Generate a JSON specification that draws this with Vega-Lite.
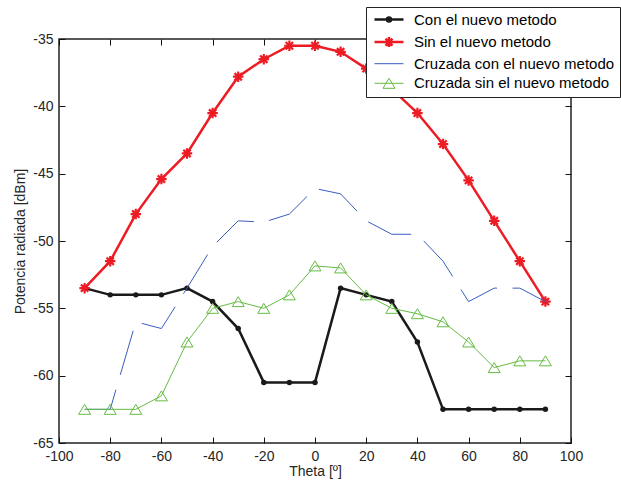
{
  "$schema": "https://vega.github.io/schema/vega-lite/v6.json",
  "width": 512,
  "height": 404,
  "autosize": {"type": "none"},
  "padding": {"left": 59, "top": 39, "right": 50, "bottom": 42},
  "background": "white",
  "config": {
    "view": {"stroke": "#222222", "strokeWidth": 1.5},
    "font": "Liberation Sans",
    "axis": {
      "grid": false,
      "domain": false,
      "zindex": 1,
      "labelFlush": false,
      "labelOverlap": false,
      "labelFont": "Liberation Sans",
      "labelFontSize": 14,
      "labelColor": "#262626",
      "labelExpr": "'' + datum.value",
      "titleFont": "Liberation Sans",
      "titleFontSize": 14,
      "titleFontWeight": "normal",
      "titleColor": "#262626"
    }
  },
  "datasets": {
    "rows": [
      {"theta": -90, "value": -53.5, "series": "Con el nuevo metodo"},
      {"theta": -80, "value": -54, "series": "Con el nuevo metodo"},
      {"theta": -70, "value": -54, "series": "Con el nuevo metodo"},
      {"theta": -60, "value": -54, "series": "Con el nuevo metodo"},
      {"theta": -50, "value": -53.5, "series": "Con el nuevo metodo"},
      {"theta": -40, "value": -54.5, "series": "Con el nuevo metodo"},
      {"theta": -30, "value": -56.5, "series": "Con el nuevo metodo"},
      {"theta": -20, "value": -60.5, "series": "Con el nuevo metodo"},
      {"theta": -10, "value": -60.5, "series": "Con el nuevo metodo"},
      {"theta": 0, "value": -60.5, "series": "Con el nuevo metodo"},
      {"theta": 10, "value": -53.5, "series": "Con el nuevo metodo"},
      {"theta": 20, "value": -54, "series": "Con el nuevo metodo"},
      {"theta": 30, "value": -54.5, "series": "Con el nuevo metodo"},
      {"theta": 40, "value": -57.5, "series": "Con el nuevo metodo"},
      {"theta": 50, "value": -62.5, "series": "Con el nuevo metodo"},
      {"theta": 60, "value": -62.5, "series": "Con el nuevo metodo"},
      {"theta": 70, "value": -62.5, "series": "Con el nuevo metodo"},
      {"theta": 80, "value": -62.5, "series": "Con el nuevo metodo"},
      {"theta": 90, "value": -62.5, "series": "Con el nuevo metodo"},
      {"theta": -90, "value": -53.5, "series": "Sin el nuevo metodo"},
      {"theta": -80, "value": -51.5, "series": "Sin el nuevo metodo"},
      {"theta": -70, "value": -48, "series": "Sin el nuevo metodo"},
      {"theta": -60, "value": -45.4, "series": "Sin el nuevo metodo"},
      {"theta": -50, "value": -43.5, "series": "Sin el nuevo metodo"},
      {"theta": -40, "value": -40.5, "series": "Sin el nuevo metodo"},
      {"theta": -30, "value": -37.8, "series": "Sin el nuevo metodo"},
      {"theta": -20, "value": -36.5, "series": "Sin el nuevo metodo"},
      {"theta": -10, "value": -35.5, "series": "Sin el nuevo metodo"},
      {"theta": 0, "value": -35.5, "series": "Sin el nuevo metodo"},
      {"theta": 10, "value": -35.95, "series": "Sin el nuevo metodo"},
      {"theta": 20, "value": -37.2, "series": "Sin el nuevo metodo"},
      {"theta": 30, "value": -38.7, "series": "Sin el nuevo metodo"},
      {"theta": 40, "value": -40.5, "series": "Sin el nuevo metodo"},
      {"theta": 50, "value": -42.8, "series": "Sin el nuevo metodo"},
      {"theta": 60, "value": -45.5, "series": "Sin el nuevo metodo"},
      {"theta": 70, "value": -48.5, "series": "Sin el nuevo metodo"},
      {"theta": 80, "value": -51.5, "series": "Sin el nuevo metodo"},
      {"theta": 90, "value": -54.5, "series": "Sin el nuevo metodo"},
      {"theta": -90, "value": -62.5, "series": "Cruzada con el nuevo metodo"},
      {"theta": -80, "value": -62.5, "series": "Cruzada con el nuevo metodo"},
      {"theta": -70, "value": -56, "series": "Cruzada con el nuevo metodo"},
      {"theta": -60, "value": -56.5, "series": "Cruzada con el nuevo metodo"},
      {"theta": -50, "value": -53.5, "series": "Cruzada con el nuevo metodo"},
      {"theta": -40, "value": -50.4, "series": "Cruzada con el nuevo metodo"},
      {"theta": -30, "value": -48.5, "series": "Cruzada con el nuevo metodo"},
      {"theta": -20, "value": -48.6, "series": "Cruzada con el nuevo metodo"},
      {"theta": -10, "value": -48, "series": "Cruzada con el nuevo metodo"},
      {"theta": 0, "value": -46.1, "series": "Cruzada con el nuevo metodo"},
      {"theta": 10, "value": -46.5, "series": "Cruzada con el nuevo metodo"},
      {"theta": 20, "value": -48.5, "series": "Cruzada con el nuevo metodo"},
      {"theta": 30, "value": -49.5, "series": "Cruzada con el nuevo metodo"},
      {"theta": 40, "value": -49.5, "series": "Cruzada con el nuevo metodo"},
      {"theta": 50, "value": -51.5, "series": "Cruzada con el nuevo metodo"},
      {"theta": 60, "value": -54.5, "series": "Cruzada con el nuevo metodo"},
      {"theta": 70, "value": -53.5, "series": "Cruzada con el nuevo metodo"},
      {"theta": 80, "value": -53.5, "series": "Cruzada con el nuevo metodo"},
      {"theta": 90, "value": -54.5, "series": "Cruzada con el nuevo metodo"},
      {"theta": -90, "value": -62.5, "series": "Cruzada sin el nuevo metodo"},
      {"theta": -80, "value": -62.5, "series": "Cruzada sin el nuevo metodo"},
      {"theta": -70, "value": -62.5, "series": "Cruzada sin el nuevo metodo"},
      {"theta": -60, "value": -61.5, "series": "Cruzada sin el nuevo metodo"},
      {"theta": -50, "value": -57.5, "series": "Cruzada sin el nuevo metodo"},
      {"theta": -40, "value": -55, "series": "Cruzada sin el nuevo metodo"},
      {"theta": -30, "value": -54.5, "series": "Cruzada sin el nuevo metodo"},
      {"theta": -20, "value": -55, "series": "Cruzada sin el nuevo metodo"},
      {"theta": -10, "value": -54, "series": "Cruzada sin el nuevo metodo"},
      {"theta": 0, "value": -51.85, "series": "Cruzada sin el nuevo metodo"},
      {"theta": 10, "value": -52, "series": "Cruzada sin el nuevo metodo"},
      {"theta": 20, "value": -54, "series": "Cruzada sin el nuevo metodo"},
      {"theta": 30, "value": -55, "series": "Cruzada sin el nuevo metodo"},
      {"theta": 40, "value": -55.4, "series": "Cruzada sin el nuevo metodo"},
      {"theta": 50, "value": -56, "series": "Cruzada sin el nuevo metodo"},
      {"theta": 60, "value": -57.5, "series": "Cruzada sin el nuevo metodo"},
      {"theta": 70, "value": -59.4, "series": "Cruzada sin el nuevo metodo"},
      {"theta": 80, "value": -58.9, "series": "Cruzada sin el nuevo metodo"},
      {"theta": 90, "value": -58.9, "series": "Cruzada sin el nuevo metodo"}
    ]
  },
  "data": {"name": "rows"},
  "encoding": {
    "x": {"field": "theta", "type": "quantitative", "axis": null, "scale": {"domain": [-100, 100], "nice": false, "zero": false}},
    "y": {"field": "value", "type": "quantitative", "axis": null, "scale": {"domain": [-65, -35], "nice": false, "zero": false}}
  },
  "layer": [
    {
      "transform": [{"filter": "datum.series === 'Con el nuevo metodo'"}],
      "mark": {"type": "line", "strokeWidth": 2.5, "strokeJoin": "miter"},
      "encoding": {
        "x": {"field": "theta", "type": "quantitative", "scale": {"domain": [-100, 100], "nice": false, "zero": false}, "axis": {"orient": "bottom", "values": [-100, -80, -60, -40, -20, 0, 20, 40, 60, 80, 100], "title": "Theta [º]", "ticks": true, "tickSize": 6, "tickWidth": 1, "tickColor": "#111111", "offset": -6, "labelPadding": 6, "titlePadding": 1}},
        "y": {"field": "value", "type": "quantitative", "scale": {"domain": [-65, -35], "nice": false, "zero": false}, "axis": {"orient": "left", "values": [-65, -60, -55, -50, -45, -40, -35], "title": "Potencia radiada [dBm]", "ticks": true, "tickSize": 6, "tickWidth": 1, "tickColor": "#111111", "offset": -6, "labelPadding": 6, "titlePadding": 5}},
        "color": {
          "field": "series", "type": "nominal",
          "scale": {
            "domain": ["Con el nuevo metodo", "Sin el nuevo metodo", "Cruzada con el nuevo metodo", "Cruzada sin el nuevo metodo"],
            "range": ["#1a1a1a", "#ed1c24", "#3a5cbe", "#66bb44"]
          },
          "legend": {
            "orient": "none",
            "legendX": 307,
            "legendY": -32,
            "title": null,
            "direction": "vertical",
            "fillColor": "white",
            "strokeColor": "#222222",
            "padding": 5,
            "rowPadding": 3.6,
            "symbolSize": 100,
            "symbolOffset": 10.5,
            "labelOffset": 17.5,
            "labelFont": "Liberation Sans",
            "labelFontSize": 15,
            "labelColor": "#000000",
            "labelLimit": 400,
            "zindex": 2,
            "encode": {
              "symbols": {
                "update": {
                  "shape": {"signal": "datum.value === 'Con el nuevo metodo' ? 'M-2.9,0H2.9M0.4,0A0.4,0.4 0 1,1 -0.4,0A0.4,0.4 0 1,1 0.4,0Z' : datum.value === 'Sin el nuevo metodo' ? 'M-2.9,0H2.9M-1,0H1M0,-1V1M-0.7,-0.7L0.7,0.7M-0.7,0.7L0.7,-0.7' : datum.value === 'Cruzada con el nuevo metodo' ? 'M-2.9,0H2.9' : 'M-2.9,0H2.9M0,-1L1.2,1L-1.2,1Z'"},
                  "fill": [
                    {"test": "datum.value === 'Cruzada sin el nuevo metodo' || datum.value === 'Cruzada con el nuevo metodo'", "value": "transparent"},
                    {"scale": "color", "field": "value"}
                  ],
                  "stroke": {"scale": "color", "field": "value"},
                  "strokeWidth": {"signal": "datum.value === 'Con el nuevo metodo' || datum.value === 'Sin el nuevo metodo' ? 2.5 : 1"},
                  "opacity": {"value": 1}
                }
              }
            }
          }
        }
      }
    },
    {
      "transform": [{"filter": "datum.series === 'Con el nuevo metodo'"}],
      "mark": {"type": "point", "shape": "circle", "filled": true, "size": 30, "opacity": 1, "color": "#1a1a1a"},
      "encoding": {
        "x": {"field": "theta", "type": "quantitative", "scale": {"domain": [-100, 100], "nice": false, "zero": false}, "axis": {"orient": "top", "values": [-100, -80, -60, -40, -20, 0, 20, 40, 60, 80, 100], "labels": false, "title": null, "ticks": true, "tickSize": 6, "tickWidth": 1, "tickColor": "#111111", "offset": -6}},
        "y": {"field": "value", "type": "quantitative", "scale": {"domain": [-65, -35], "nice": false, "zero": false}, "axis": {"orient": "right", "values": [-65, -60, -55, -50, -45, -40, -35], "labels": false, "title": null, "ticks": true, "tickSize": 6, "tickWidth": 1, "tickColor": "#111111", "offset": -6}}
      }
    },
    {
      "transform": [{"filter": "datum.series === 'Sin el nuevo metodo'"}],
      "mark": {"type": "line", "strokeWidth": 2.5, "strokeJoin": "miter"},
      "encoding": {"color": {"field": "series", "type": "nominal"}}
    },
    {
      "transform": [{"filter": "datum.series === 'Sin el nuevo metodo'"}],
      "mark": {"type": "point", "shape": "M-1,0H1M0,-1V1M-0.7,-0.7L0.7,0.7M-0.7,0.7L0.7,-0.7", "filled": false, "size": 110, "strokeWidth": 2.2, "opacity": 1, "color": "#ed1c24"},
      "encoding": {}
    },
    {
      "transform": [{"filter": "datum.series === 'Cruzada con el nuevo metodo'"}],
      "mark": {"type": "line", "strokeWidth": 1, "strokeDash": [46, 15.5]},
      "encoding": {"color": {"field": "series", "type": "nominal"}}
    },
    {
      "transform": [{"filter": "datum.series === 'Cruzada sin el nuevo metodo'"}],
      "mark": {"type": "line", "strokeWidth": 1},
      "encoding": {"color": {"field": "series", "type": "nominal"}}
    },
    {
      "transform": [{"filter": "datum.series === 'Cruzada sin el nuevo metodo'"}],
      "mark": {"type": "point", "shape": "M0,-0.83L1,0.83L-1,0.83Z", "filled": false, "size": 144, "strokeWidth": 1, "opacity": 1, "color": "#66bb44"},
      "encoding": {}
    }
  ]
}
